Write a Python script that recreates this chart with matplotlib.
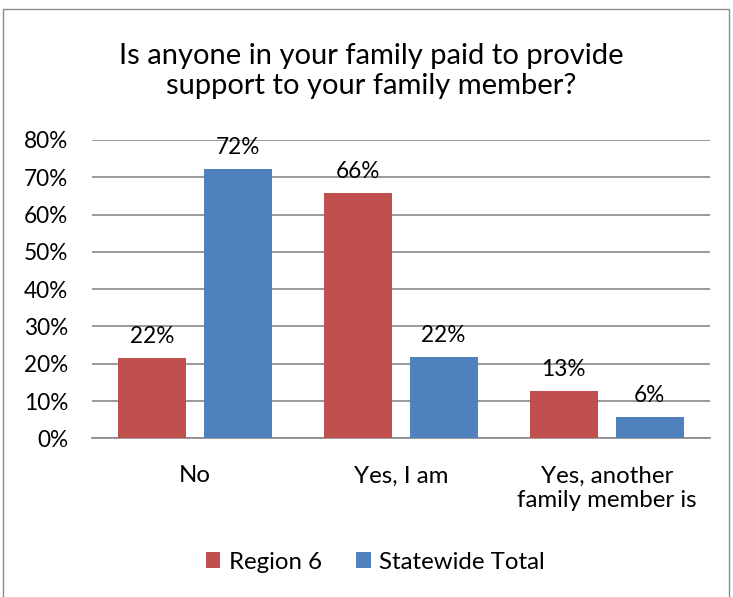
import matplotlib.pyplot as plt
import numpy as np
from matplotlib.patches import Rectangle

plt.rcParams['font.family'] = ['Lato', 'DejaVu Sans']

categories = ["No", "Yes, I am", "Yes, another\nfamily member is"]
series_names = ["Region 6", "Statewide Total"]
region_6 = [21.6, 65.8, 12.6]
statewide_total = [72.2, 21.9, 5.6]
y_ticks = [0, 10, 20, 30, 40, 50, 60, 70, 80]

colors = ["#C0504D", "#4F81BD"]
grid_color = "#898989"

figure = plt.figure(figsize=(7.33, 5.97), dpi=100)
axis = figure.add_axes([0.1255, 0.2658, 0.843, 0.4997])

x = np.arange(len(categories))
bar_width = 0.33
offsets = [-0.21, 0.207]

for values, offset, color, name in zip([region_6, statewide_total], offsets, colors, series_names):
    bars = axis.bar(x + offset, values, width=bar_width, color=color, label=name, zorder=3)
    for bar, value in zip(bars, values):
        axis.annotate(f"{round(value)}%",
                      xy=(bar.get_x() + bar.get_width() / 2, value),
                      xytext=(0, 8), textcoords="offset points",
                      ha="center", va="bottom", fontsize=16.3, color="#000000")

axis.set_xlim(-0.5, 2.5)
axis.set_ylim(0, 80)
axis.set_yticks(y_ticks)
axis.set_yticklabels([f"{tick}%" for tick in y_ticks])
axis.set_xticks(x)
axis.set_xticklabels(categories, linespacing=1.2)

axis.yaxis.grid(True, color=grid_color, linewidth=1.2, zorder=0)
axis.tick_params(axis="y", length=0, pad=17, labelsize=16.3)
axis.tick_params(axis="x", length=0, pad=19.5, labelsize=17.3)

for side in ["top", "right", "left"]:
    axis.spines[side].set_visible(False)
axis.spines["bottom"].set_color(grid_color)
axis.spines["bottom"].set_linewidth(1.2)

figure.text(0.507, 0.881, "Is anyone in your family paid to provide\nsupport to your family member?",
            ha="center", va="center", fontsize=21, linespacing=1.15)

figure.legend(loc="center", bbox_to_anchor=(0.512, 0.0586), ncol=2, frameon=False,
              fontsize=17.3, handlelength=0.6, handleheight=0.6, handletextpad=0.35,
              columnspacing=1.43)

# light frame around the whole chart
figure.patches.append(Rectangle((0.004, -0.05), 0.99, 1.035, transform=figure.transFigure,
                                fill=False, edgecolor="#8C8C8C", linewidth=1.0))

figure.savefig("out.png", dpi=100, facecolor="white")
plt.close(figure)
